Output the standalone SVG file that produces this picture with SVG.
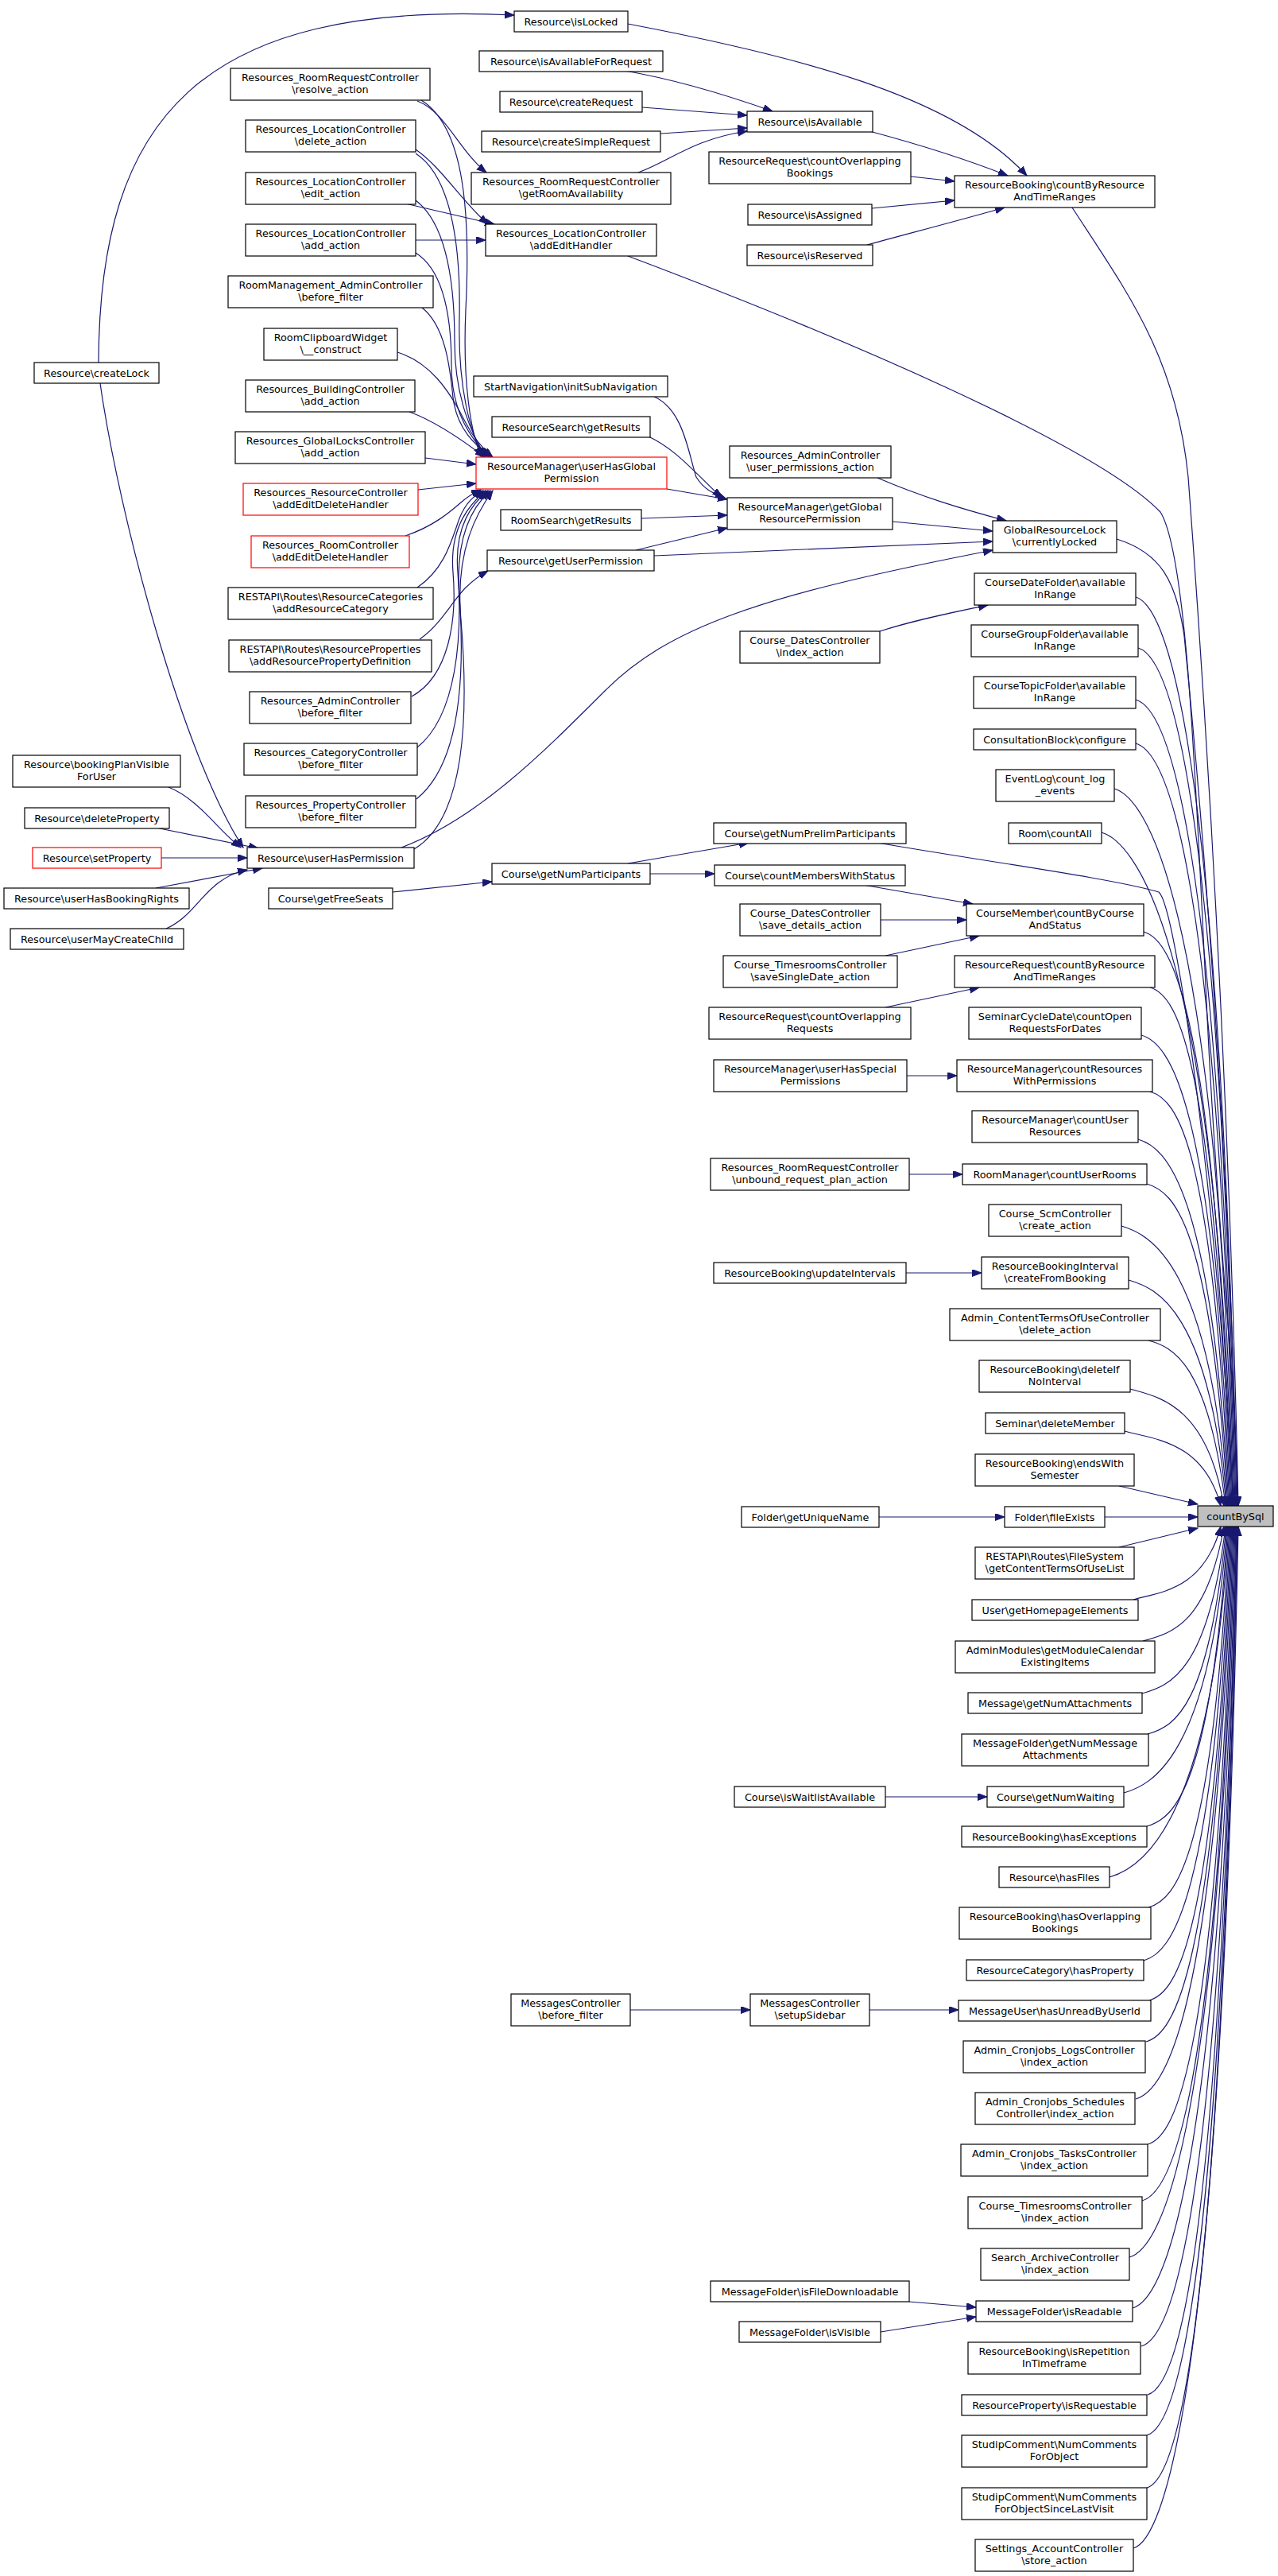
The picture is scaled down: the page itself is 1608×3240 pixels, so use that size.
<svg xmlns="http://www.w3.org/2000/svg" width="1608" height="3240" viewBox="0 0 1608 3240">
<defs>
<style>
.n rect{fill:#fff;stroke:#000;stroke-width:1.2}
.r rect{stroke:#f00}
.g rect{fill:#bfbfbf}
text{font-family:"DejaVu Sans","Liberation Sans",sans-serif;font-size:12.8px;text-anchor:middle;fill:#000}
.e path{fill:none;stroke:#191970;stroke-width:1.2;marker-end:url(#a)}
</style>
<marker id="a" markerWidth="13" markerHeight="10" refX="12" refY="4.5" orient="auto" markerUnits="userSpaceOnUse"><path d="M0,0 L12,4.5 L0,9 z" fill="#191970" stroke="#191970" stroke-width="1"/></marker>
</defs>
<rect width="1608" height="3240" fill="#fff"/>
<g id="edges" class="e">
<path d="M124,456 C125,150 250,0 647,19"/>
<path d="M126,482 C150,650 230,950 306,1066"/>
<path d="M212,990 C250,1005 275,1045 303,1066"/>
<path d="M196,1041 L325,1067"/>
<path d="M203,1079 L311,1079"/>
<path d="M196,1117 L330,1092"/>
<path d="M209,1168 C250,1150 258,1105 311,1094"/>
<path d="M786,89 C850,100 910,118 972,140"/>
<path d="M808,135 L940,145"/>
<path d="M831,168 L940,161"/>
<path d="M800,218 C840,205 870,175 940,165"/>
<path d="M790,30 C1000,70 1200,120 1292,221"/>
<path d="M1094,165 C1150,180 1215,200 1268,221"/>
<path d="M1146,222 L1201,228"/>
<path d="M1097,262 L1201,252"/>
<path d="M1091,308 C1150,292 1215,275 1264,261"/>
<path d="M525,127 C560,140 578,190 612,217"/>
<path d="M530,126 C585,160 592,270 586,390 C582,480 592,545 606,575"/>
<path d="M523,188 C555,210 580,252 614,282"/>
<path d="M523,193 C565,220 580,300 578,400 C576,490 592,545 609,575"/>
<path d="M510,256 L622,282"/>
<path d="M523,252 C560,280 572,350 572,430 C572,500 594,548 612,575"/>
<path d="M523,302 L611,302"/>
<path d="M523,318 C558,340 568,400 568,460 C568,520 594,553 615,575"/>
<path d="M531,387 C560,410 566,460 570,500 C575,540 598,560 618,575"/>
<path d="M500,443 C540,455 565,490 585,530 C595,550 608,565 620,575"/>
<path d="M515,518 C548,530 580,552 610,575"/>
<path d="M535,576 L599,584"/>
<path d="M526,616 L599,608"/>
<path d="M510,674 C545,662 565,645 580,632 C590,623 596,620 605,616"/>
<path d="M525,739 C560,715 568,680 578,652 C586,632 596,624 608,617"/>
<path d="M528,804 C555,785 570,755 585,740 C595,730 603,724 614,718"/>
<path d="M518,876 C565,850 575,780 570,720 C565,660 594,632 611,617"/>
<path d="M525,940 C575,900 582,800 576,720 C571,660 596,632 614,617"/>
<path d="M524,1005 C580,960 585,850 578,750 C572,670 598,634 617,617"/>
<path d="M521,1068 C585,1030 590,900 580,780 C572,690 602,642 620,617"/>
<path d="M505,1066 C600,1030 680,950 760,870 C840,790 950,750 1249,692"/>
<path d="M823,499 C860,515 866,570 876,600 C886,616 897,620 912,626"/>
<path d="M816,549 C850,565 872,592 908,626"/>
<path d="M839,615 L915,628"/>
<path d="M807,652 L915,648"/>
<path d="M800,692 L915,664"/>
<path d="M823,699 L1249,681"/>
<path d="M1104,601 C1160,625 1210,640 1266,655"/>
<path d="M1123,656 L1249,668"/>
<path d="M1107,794 C1150,780 1200,770 1243,761"/>
<path d="M790,1086 L942,1060"/>
<path d="M818,1099 L899,1099"/>
<path d="M494,1122 L619,1109"/>
<path d="M1086,1113 L1224,1137"/>
<path d="M1108,1157 L1216,1157"/>
<path d="M1114,1202 L1232,1177"/>
<path d="M1114,1267 L1232,1242"/>
<path d="M1141,1353 L1204,1353"/>
<path d="M1144,1477 L1211,1477"/>
<path d="M1140,1601 L1235,1601"/>
<path d="M1106,1908 L1264,1908"/>
<path d="M1114,2260 L1242,2260"/>
<path d="M793,2528 L944,2528"/>
<path d="M1094,2528 L1206,2528"/>
<path d="M1144,2895 L1228,2902"/>
<path d="M1108,2933 L1228,2914"/>
<path d="M1408,1869 L1507,1892"/>
<path d="M1390,1908 L1507,1908"/>
<path d="M1408,1946 L1507,1922"/>
<path d="M790,322 C1050,420 1380,560 1460,644 C1495,700 1505,1000 1520,1300 C1535,1600 1557,1750 1557,1894"/>
<path d="M1349,261 C1420,370 1480,450 1495,600 C1510,800 1545,1300 1558,1894"/>
<path d="M1405,678 C1460,695 1480,730 1490,800 C1510,1000 1545,1400 1557,1894"/>
<path d="M1104,1060 C1250,1085 1400,1105 1458,1122 C1480,1140 1530,1500 1552,1894"/>
<path d="M1429,751 C1464,761 1534,900 1556,1894"/>
<path d="M1432,815 C1467,825 1533,955 1555,1894"/>
<path d="M1429,880 C1464,890 1532,1012 1554,1894"/>
<path d="M1429,935 C1464,945 1531,1060 1553,1894"/>
<path d="M1402,992 C1437,1002 1530,1109 1552,1894"/>
<path d="M1386,1047 C1421,1057 1529,1157 1551,1894"/>
<path d="M1439,1172 C1474,1182 1528,1266 1550,1894"/>
<path d="M1447,1242 C1482,1252 1527,1327 1549,1894"/>
<path d="M1436,1302 C1471,1312 1526,1379 1548,1894"/>
<path d="M1447,1373 C1482,1383 1525,1441 1547,1894"/>
<path d="M1432,1433 C1467,1443 1524,1493 1546,1894"/>
<path d="M1443,1489 C1478,1499 1523,1542 1545,1894"/>
<path d="M1411,1542 C1446,1552 1522,1588 1544,1894"/>
<path d="M1420,1610 C1455,1620 1521,1647 1543,1894"/>
<path d="M1445,1686 C1475,1694 1520,1713 1542,1894"/>
<path d="M1422,1747 C1457,1757 1518,1766 1540,1894"/>
<path d="M1415,1800 C1450,1810 1514,1812 1536,1894"/>
<path d="M1426,2012 C1461,2002 1514,2000 1536,1920"/>
<path d="M1438,2064 C1473,2054 1518,2045 1540,1920"/>
<path d="M1437,2130 C1472,2120 1520,2103 1542,1920"/>
<path d="M1444,2181 C1479,2171 1521,2147 1543,1920"/>
<path d="M1414,2255 C1449,2245 1522,2211 1544,1920"/>
<path d="M1443,2297 C1478,2287 1523,2248 1545,1920"/>
<path d="M1396,2361 C1431,2351 1524,2304 1546,1920"/>
<path d="M1445,2399 C1480,2389 1525,2337 1547,1920"/>
<path d="M1439,2466 C1474,2456 1526,2395 1548,1920"/>
<path d="M1446,2516 C1481,2506 1527,2439 1549,1920"/>
<path d="M1442,2568 C1477,2558 1528,2484 1550,1920"/>
<path d="M1429,2640 C1464,2630 1529,2546 1551,1920"/>
<path d="M1444,2697 C1479,2687 1530,2596 1552,1920"/>
<path d="M1437,2768 C1472,2758 1531,2658 1553,1920"/>
<path d="M1421,2839 C1456,2829 1532,2720 1554,1920"/>
<path d="M1425,2903 C1460,2893 1533,2775 1555,1920"/>
<path d="M1436,2951 C1471,2941 1534,2817 1556,1920"/>
<path d="M1444,3012 C1479,3002 1534,2870 1556,1920"/>
<path d="M1443,3063 C1478,3053 1535,2914 1557,1920"/>
<path d="M1443,3129 C1478,3119 1535,2972 1557,1920"/>
<path d="M1426,3205 C1461,3195 1536,3038 1558,1920"/>
</g>
<g id="n1" class="n"><rect x="647" y="14" width="143" height="26"/><text x="718.5" y="31.5">Resource\isLocked</text></g>
<g id="n2" class="n"><rect x="603" y="64" width="231" height="26"/><text x="718.5" y="81.5">Resource\isAvailableForRequest</text></g>
<g id="n3" class="n"><rect x="629" y="115" width="179" height="26"/><text x="718.5" y="132.5">Resource\createRequest</text></g>
<g id="n4" class="n"><rect x="606" y="165" width="225" height="26"/><text x="718.5" y="182.5">Resource\createSimpleRequest</text></g>
<g id="n5" class="n"><rect x="593" y="217" width="251" height="40"/><text x="718.5" y="233">Resources_RoomRequestController</text><text x="718.5" y="248">\getRoomAvailability</text></g>
<g id="n6" class="n"><rect x="611" y="282" width="215" height="40"/><text x="718.5" y="298">Resources_LocationController</text><text x="718.5" y="313">\addEditHandler</text></g>
<g id="n7" class="n"><rect x="290" y="86" width="251" height="40"/><text x="415.5" y="102">Resources_RoomRequestController</text><text x="415.5" y="117">\resolve_action</text></g>
<g id="n8" class="n"><rect x="309" y="151" width="214" height="40"/><text x="416" y="167">Resources_LocationController</text><text x="416" y="182">\delete_action</text></g>
<g id="n9" class="n"><rect x="309" y="217" width="214" height="40"/><text x="416" y="233">Resources_LocationController</text><text x="416" y="248">\edit_action</text></g>
<g id="n10" class="n"><rect x="309" y="282" width="214" height="40"/><text x="416" y="298">Resources_LocationController</text><text x="416" y="313">\add_action</text></g>
<g id="n11" class="n"><rect x="287" y="347" width="258" height="40"/><text x="416" y="363">RoomManagement_AdminController</text><text x="416" y="378">\before_filter</text></g>
<g id="n12" class="n"><rect x="332" y="413" width="168" height="40"/><text x="416" y="429">RoomClipboardWidget</text><text x="416" y="444">\__construct</text></g>
<g id="n13" class="n"><rect x="43" y="456" width="157" height="26"/><text x="121.5" y="473.5">Resource\createLock</text></g>
<g id="n14" class="n"><rect x="596" y="473" width="244" height="26"/><text x="718" y="490.5">StartNavigation\initSubNavigation</text></g>
<g id="n15" class="n"><rect x="309" y="478" width="213" height="40"/><text x="415.5" y="494">Resources_BuildingController</text><text x="415.5" y="509">\add_action</text></g>
<g id="n16" class="n"><rect x="619" y="524" width="199" height="26"/><text x="718.5" y="541.5">ResourceSearch\getResults</text></g>
<g id="n17" class="n"><rect x="296" y="543" width="239" height="40"/><text x="415.5" y="559">Resources_GlobalLocksController</text><text x="415.5" y="574">\add_action</text></g>
<g id="n18" class="n r"><rect x="599" y="575" width="240" height="40"/><text x="719" y="591">ResourceManager\userHasGlobal</text><text x="719" y="606">Permission</text></g>
<g id="n19" class="n r"><rect x="306" y="608" width="220" height="40"/><text x="416" y="624">Resources_ResourceController</text><text x="416" y="639">\addEditDeleteHandler</text></g>
<g id="n20" class="n"><rect x="630" y="641" width="177" height="26"/><text x="718.5" y="658.5">RoomSearch\getResults</text></g>
<g id="n21" class="n r"><rect x="316" y="674" width="199" height="40"/><text x="415.5" y="690">Resources_RoomController</text><text x="415.5" y="705">\addEditDeleteHandler</text></g>
<g id="n22" class="n"><rect x="613" y="692" width="210" height="26"/><text x="718" y="709.5">Resource\getUserPermission</text></g>
<g id="n23" class="n"><rect x="287" y="739" width="258" height="40"/><text x="416" y="755">RESTAPI\Routes\ResourceCategories</text><text x="416" y="770">\addResourceCategory</text></g>
<g id="n24" class="n"><rect x="288" y="805" width="255" height="40"/><text x="415.5" y="821">RESTAPI\Routes\ResourceProperties</text><text x="415.5" y="836">\addResourcePropertyDefinition</text></g>
<g id="n25" class="n"><rect x="314" y="870" width="203" height="40"/><text x="415.5" y="886">Resources_AdminController</text><text x="415.5" y="901">\before_filter</text></g>
<g id="n26" class="n"><rect x="307" y="935" width="218" height="40"/><text x="416" y="951">Resources_CategoryController</text><text x="416" y="966">\before_filter</text></g>
<g id="n27" class="n"><rect x="16" y="950" width="211" height="40"/><text x="121.5" y="966">Resource\bookingPlanVisible</text><text x="121.5" y="981">ForUser</text></g>
<g id="n28" class="n"><rect x="309" y="1001" width="214" height="40"/><text x="416" y="1017">Resources_PropertyController</text><text x="416" y="1032">\before_filter</text></g>
<g id="n29" class="n"><rect x="31" y="1016" width="182" height="26"/><text x="122" y="1033.5">Resource\deleteProperty</text></g>
<g id="n30" class="n r"><rect x="41" y="1066" width="162" height="26"/><text x="122" y="1083.5">Resource\setProperty</text></g>
<g id="n31" class="n"><rect x="311" y="1066" width="210" height="26"/><text x="416" y="1083.5">Resource\userHasPermission</text></g>
<g id="n32" class="n"><rect x="619" y="1086" width="199" height="26"/><text x="718.5" y="1103.5">Course\getNumParticipants</text></g>
<g id="n33" class="n"><rect x="5" y="1117" width="233" height="26"/><text x="121.5" y="1134.5">Resource\userHasBookingRights</text></g>
<g id="n34" class="n"><rect x="338" y="1117" width="156" height="26"/><text x="416" y="1134.5">Course\getFreeSeats</text></g>
<g id="n35" class="n"><rect x="13" y="1168" width="218" height="26"/><text x="122" y="1185.5">Resource\userMayCreateChild</text></g>
<g id="n36" class="n"><rect x="940" y="140" width="158" height="26"/><text x="1019" y="157.5">Resource\isAvailable</text></g>
<g id="n37" class="n"><rect x="892" y="191" width="254" height="40"/><text x="1019" y="207">ResourceRequest\countOverlapping</text><text x="1019" y="222">Bookings</text></g>
<g id="n38" class="n"><rect x="1201" y="221" width="252" height="40"/><text x="1327" y="237">ResourceBooking\countByResource</text><text x="1327" y="252">AndTimeRanges</text></g>
<g id="n39" class="n"><rect x="941" y="257" width="156" height="26"/><text x="1019" y="274.5">Resource\isAssigned</text></g>
<g id="n40" class="n"><rect x="940" y="308" width="158" height="26"/><text x="1019" y="325.5">Resource\isReserved</text></g>
<g id="n41" class="n"><rect x="918" y="561" width="203" height="40"/><text x="1019.5" y="577">Resources_AdminController</text><text x="1019.5" y="592">\user_permissions_action</text></g>
<g id="n42" class="n"><rect x="915" y="626" width="208" height="40"/><text x="1019" y="642">ResourceManager\getGlobal</text><text x="1019" y="657">ResourcePermission</text></g>
<g id="n43" class="n"><rect x="1249" y="655" width="156" height="40"/><text x="1327" y="671">GlobalResourceLock</text><text x="1327" y="686">\currentlyLocked</text></g>
<g id="n44" class="n"><rect x="1226" y="721" width="203" height="40"/><text x="1327.5" y="737">CourseDateFolder\available</text><text x="1327.5" y="752">InRange</text></g>
<g id="n45" class="n"><rect x="931" y="794" width="176" height="40"/><text x="1019" y="810">Course_DatesController</text><text x="1019" y="825">\index_action</text></g>
<g id="n46" class="n"><rect x="1222" y="786" width="210" height="40"/><text x="1327" y="802">CourseGroupFolder\available</text><text x="1327" y="817">InRange</text></g>
<g id="n47" class="n"><rect x="1225" y="851" width="204" height="40"/><text x="1327" y="867">CourseTopicFolder\available</text><text x="1327" y="882">InRange</text></g>
<g id="n48" class="n"><rect x="1225" y="917" width="204" height="26"/><text x="1327" y="934.5">ConsultationBlock\configure</text></g>
<g id="n49" class="n"><rect x="1253" y="968" width="149" height="40"/><text x="1327.5" y="984">EventLog\count_log</text><text x="1327.5" y="999">_events</text></g>
<g id="n50" class="n"><rect x="1269" y="1035" width="117" height="26"/><text x="1327.5" y="1052.5">Room\countAll</text></g>
<g id="n51" class="n"><rect x="898" y="1035" width="242" height="26"/><text x="1019" y="1052.5">Course\getNumPrelimParticipants</text></g>
<g id="n52" class="n"><rect x="899" y="1088" width="240" height="26"/><text x="1019" y="1105.5">Course\countMembersWithStatus</text></g>
<g id="n53" class="n"><rect x="1216" y="1137" width="223" height="40"/><text x="1327.5" y="1153">CourseMember\countByCourse</text><text x="1327.5" y="1168">AndStatus</text></g>
<g id="n54" class="n"><rect x="931" y="1137" width="177" height="40"/><text x="1019.5" y="1153">Course_DatesController</text><text x="1019.5" y="1168">\save_details_action</text></g>
<g id="n55" class="n"><rect x="910" y="1202" width="219" height="40"/><text x="1019.5" y="1218">Course_TimesroomsController</text><text x="1019.5" y="1233">\saveSingleDate_action</text></g>
<g id="n56" class="n"><rect x="1201" y="1202" width="252" height="40"/><text x="1327" y="1218">ResourceRequest\countByResource</text><text x="1327" y="1233">AndTimeRanges</text></g>
<g id="n57" class="n"><rect x="892" y="1267" width="254" height="40"/><text x="1019" y="1283">ResourceRequest\countOverlapping</text><text x="1019" y="1298">Requests</text></g>
<g id="n58" class="n"><rect x="1219" y="1267" width="217" height="40"/><text x="1327.5" y="1283">SeminarCycleDate\countOpen</text><text x="1327.5" y="1298">RequestsForDates</text></g>
<g id="n59" class="n"><rect x="898" y="1333" width="243" height="40"/><text x="1019.5" y="1349">ResourceManager\userHasSpecial</text><text x="1019.5" y="1364">Permissions</text></g>
<g id="n60" class="n"><rect x="1204" y="1333" width="246" height="40"/><text x="1327" y="1349">ResourceManager\countResources</text><text x="1327" y="1364">WithPermissions</text></g>
<g id="n61" class="n"><rect x="1223" y="1397" width="209" height="40"/><text x="1327.5" y="1413">ResourceManager\countUser</text><text x="1327.5" y="1428">Resources</text></g>
<g id="n62" class="n"><rect x="894" y="1457" width="250" height="40"/><text x="1019" y="1473">Resources_RoomRequestController</text><text x="1019" y="1488">\unbound_request_plan_action</text></g>
<g id="n63" class="n"><rect x="1211" y="1464" width="232" height="26"/><text x="1327" y="1481.5">RoomManager\countUserRooms</text></g>
<g id="n64" class="n"><rect x="1244" y="1515" width="167" height="40"/><text x="1327.5" y="1531">Course_ScmController</text><text x="1327.5" y="1546">\create_action</text></g>
<g id="n65" class="n"><rect x="898" y="1588" width="242" height="26"/><text x="1019" y="1605.5">ResourceBooking\updateIntervals</text></g>
<g id="n66" class="n"><rect x="1235" y="1581" width="185" height="40"/><text x="1327.5" y="1597">ResourceBookingInterval</text><text x="1327.5" y="1612">\createFromBooking</text></g>
<g id="n67" class="n"><rect x="1195" y="1646" width="265" height="40"/><text x="1327.5" y="1662">Admin_ContentTermsOfUseController</text><text x="1327.5" y="1677">\delete_action</text></g>
<g id="n68" class="n"><rect x="1232" y="1711" width="190" height="40"/><text x="1327" y="1727">ResourceBooking\deleteIf</text><text x="1327" y="1742">NoInterval</text></g>
<g id="n69" class="n"><rect x="1240" y="1777" width="175" height="26"/><text x="1327.5" y="1794.5">Seminar\deleteMember</text></g>
<g id="n70" class="n"><rect x="1227" y="1829" width="200" height="40"/><text x="1327" y="1845">ResourceBooking\endsWith</text><text x="1327" y="1860">Semester</text></g>
<g id="n71" class="n"><rect x="933" y="1895" width="173" height="26"/><text x="1019.5" y="1912.5">Folder\getUniqueName</text></g>
<g id="n72" class="n"><rect x="1264" y="1895" width="126" height="26"/><text x="1327" y="1912.5">Folder\fileExists</text></g>
<g id="n73" class="n g"><rect x="1507" y="1894" width="95" height="26"/><text x="1554.5" y="1911.5">countBySql</text></g>
<g id="n74" class="n"><rect x="1227" y="1946" width="200" height="40"/><text x="1327" y="1962">RESTAPI\Routes\FileSystem</text><text x="1327" y="1977">\getContentTermsOfUseList</text></g>
<g id="n75" class="n"><rect x="1223" y="2012" width="209" height="26"/><text x="1327.5" y="2029.5">User\getHomepageElements</text></g>
<g id="n76" class="n"><rect x="1202" y="2064" width="251" height="40"/><text x="1327.5" y="2080">AdminModules\getModuleCalendar</text><text x="1327.5" y="2095">ExistingItems</text></g>
<g id="n77" class="n"><rect x="1218" y="2129" width="219" height="26"/><text x="1327.5" y="2146.5">Message\getNumAttachments</text></g>
<g id="n78" class="n"><rect x="1210" y="2181" width="235" height="40"/><text x="1327.5" y="2197">MessageFolder\getNumMessage</text><text x="1327.5" y="2212">Attachments</text></g>
<g id="n79" class="n"><rect x="924" y="2247" width="190" height="26"/><text x="1019" y="2264.5">Course\isWaitlistAvailable</text></g>
<g id="n80" class="n"><rect x="1242" y="2247" width="172" height="26"/><text x="1328" y="2264.5">Course\getNumWaiting</text></g>
<g id="n81" class="n"><rect x="1210" y="2297" width="233" height="26"/><text x="1326.5" y="2314.5">ResourceBooking\hasExceptions</text></g>
<g id="n82" class="n"><rect x="1257" y="2348" width="139" height="26"/><text x="1326.5" y="2365.5">Resource\hasFiles</text></g>
<g id="n83" class="n"><rect x="1207" y="2399" width="241" height="40"/><text x="1327.5" y="2415">ResourceBooking\hasOverlapping</text><text x="1327.5" y="2430">Bookings</text></g>
<g id="n84" class="n"><rect x="1216" y="2465" width="223" height="26"/><text x="1327.5" y="2482.5">ResourceCategory\hasProperty</text></g>
<g id="n85" class="n"><rect x="643" y="2508" width="150" height="40"/><text x="718" y="2524">MessagesController</text><text x="718" y="2539">\before_filter</text></g>
<g id="n86" class="n"><rect x="944" y="2508" width="150" height="40"/><text x="1019" y="2524">MessagesController</text><text x="1019" y="2539">\setupSidebar</text></g>
<g id="n87" class="n"><rect x="1206" y="2516" width="242" height="26"/><text x="1327" y="2533.5">MessageUser\hasUnreadByUserId</text></g>
<g id="n88" class="n"><rect x="1212" y="2567" width="229" height="40"/><text x="1326.5" y="2583">Admin_Cronjobs_LogsController</text><text x="1326.5" y="2598">\index_action</text></g>
<g id="n89" class="n"><rect x="1227" y="2632" width="201" height="40"/><text x="1327.5" y="2648">Admin_Cronjobs_Schedules</text><text x="1327.5" y="2663">Controller\index_action</text></g>
<g id="n90" class="n"><rect x="1209" y="2697" width="235" height="40"/><text x="1326.5" y="2713">Admin_Cronjobs_TasksController</text><text x="1326.5" y="2728">\index_action</text></g>
<g id="n91" class="n"><rect x="1218" y="2763" width="219" height="40"/><text x="1327.5" y="2779">Course_TimesroomsController</text><text x="1327.5" y="2794">\index_action</text></g>
<g id="n92" class="n"><rect x="1234" y="2828" width="187" height="40"/><text x="1327.5" y="2844">Search_ArchiveController</text><text x="1327.5" y="2859">\index_action</text></g>
<g id="n93" class="n"><rect x="894" y="2869" width="250" height="26"/><text x="1019" y="2886.5">MessageFolder\isFileDownloadable</text></g>
<g id="n94" class="n"><rect x="1228" y="2894" width="197" height="26"/><text x="1326.5" y="2911.5">MessageFolder\isReadable</text></g>
<g id="n95" class="n"><rect x="930" y="2920" width="178" height="26"/><text x="1019" y="2937.5">MessageFolder\isVisible</text></g>
<g id="n96" class="n"><rect x="1218" y="2946" width="217" height="40"/><text x="1326.5" y="2962">ResourceBooking\isRepetition</text><text x="1326.5" y="2977">InTimeframe</text></g>
<g id="n97" class="n"><rect x="1210" y="3012" width="233" height="26"/><text x="1326.5" y="3029.5">ResourceProperty\isRequestable</text></g>
<g id="n98" class="n"><rect x="1210" y="3063" width="233" height="40"/><text x="1326.5" y="3079">StudipComment\NumComments</text><text x="1326.5" y="3094">ForObject</text></g>
<g id="n99" class="n"><rect x="1210" y="3129" width="233" height="40"/><text x="1326.5" y="3145">StudipComment\NumComments</text><text x="1326.5" y="3160">ForObjectSinceLastVisit</text></g>
<g id="n100" class="n"><rect x="1227" y="3194" width="199" height="40"/><text x="1326.5" y="3210">Settings_AccountController</text><text x="1326.5" y="3225">\store_action</text></g>
</svg>
